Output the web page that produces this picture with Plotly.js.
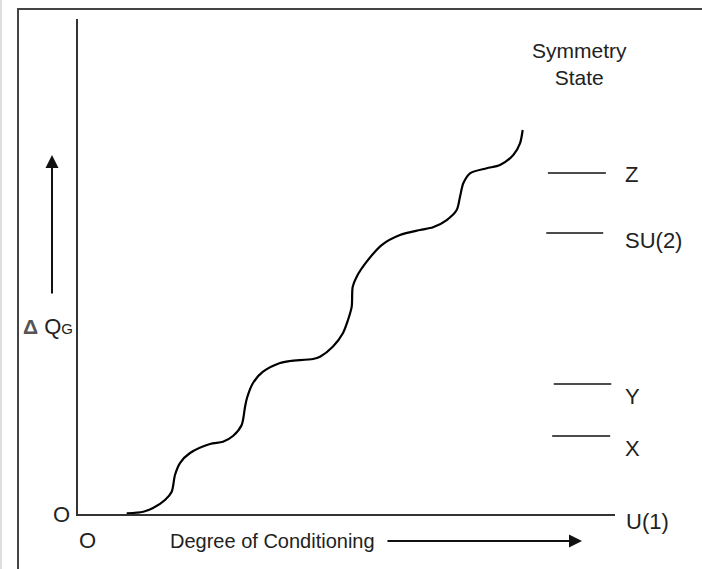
<!DOCTYPE html>
<html>
<head>
<meta charset="utf-8">
<script src="https://cdn.plot.ly/plotly-3.0.1.min.js"></script>
<style>
html,body{margin:0;padding:0;background:#fff;}
#chart{width:702px;height:569px;}
</style>
</head>
<body>
<div id="chart"></div>
<script>
// Conditioning curve (arbitrary units, 0..100 on both axes)
const conditioning = [9.07,12.16,13.97,16.20,17.45,18.06,18.99,20.86,24.58,27.00,28.86,30.48,31.10,31.47,32.59,34.45,37.62,39.48,43.76,45.07,47.49,49.35,50.28,50.97,51.15,51.90,53.76,56.55,59.96,63.69,66.11,68.66,70.52,71.14,71.75,73.00,76.11,78.58,81.06,82.31,82.81];
const deltaQG = [0.14,0.46,1.21,2.83,4.51,7.88,10.30,12.32,14.14,14.61,15.76,17.98,21.62,23.43,26.46,28.75,30.51,30.91,31.31,31.78,33.84,36.57,39.19,41.88,45.86,47.94,50.97,54.34,56.36,57.37,57.92,59.39,61.41,64.10,66.81,68.83,69.84,70.51,72.53,74.89,77.58];

// Symmetry states and their levels
const states = ["Z","SU(2)","Y","X"];
const stateLevels = [68.89,56.77,26.26,15.76];

// Text labels
const titleText = "Symmetry<br>State";
const baseState = "U(1)";
const xLabel = "Degree of Conditioning";
const yLabel = '<b style="font-size:21px;color:#555">Δ</b> Q<span style="font-size:15px">G</span>';
const originLabel = "O";

// ---- styling / placement (not data) ----
const FONT = "Liberation Sans, Arial, sans-serif";
const INK = "#222";
const lineSpans = [[87.5,98.3],[87.2,97.8],[88.6,99.3],[88.3,99.1]];
const labelShift = [-2,-8,-12,-13];

const shapes = [];
const annotations = [];

// outer frame
shapes.push({type:"rect",xref:"paper",yref:"paper",x0:-0.1117,x1:1.3,y0:-0.3,y1:1.0202,
  line:{color:"#444",width:2},fillcolor:"rgba(0,0,0,0)",layer:"below"});
// faint page edge
shapes.push({type:"line",xref:"paper",yref:"paper",x0:-0.1434,x1:-0.1434,y0:-0.3,y1:1.1,
  line:{color:"#d4d4d4",width:1.5}});

states.forEach((s,i)=>{
  shapes.push({type:"line",xref:"x",yref:"y",x0:lineSpans[i][0],x1:lineSpans[i][1],
    y0:stateLevels[i],y1:stateLevels[i],line:{color:"#111",width:1.5}});
  annotations.push({xref:"paper",yref:"y",x:1.0149,y:stateLevels[i],yshift:labelShift[i],
    xanchor:"left",yanchor:"middle",text:s,showarrow:false,font:{family:FONT,size:22,color:INK}});
});

annotations.push({xref:"paper",yref:"y",x:1.0168,y:0,yshift:-7,xanchor:"left",yanchor:"middle",
  text:baseState,showarrow:false,font:{family:FONT,size:22,color:INK}});
annotations.push({xref:"paper",yref:"paper",x:0.9348,y:0.9091,xanchor:"center",yanchor:"middle",
  text:titleText,showarrow:false,font:{family:FONT,size:21,color:INK}});
annotations.push({xref:"paper",yref:"paper",x:-0.0298,y:-0.002,xanchor:"center",yanchor:"middle",
  text:originLabel,showarrow:false,font:{family:FONT,size:22,color:INK}});
annotations.push({xref:"paper",yref:"paper",x:0.0168,y:-0.0545,xanchor:"center",yanchor:"middle",
  text:originLabel,showarrow:false,font:{family:FONT,size:22,color:INK}});
annotations.push({xref:"paper",yref:"paper",x:0.1676,y:-0.0545,xanchor:"left",yanchor:"middle",
  text:xLabel,showarrow:false,font:{family:FONT,size:20,color:INK}});
annotations.push({xref:"paper",yref:"paper",x:-0.0559,y:0.3778,xanchor:"center",yanchor:"middle",
  text:yLabel,showarrow:false,font:{family:FONT,size:22,color:INK}});
// horizontal arrow
annotations.push({xref:"paper",yref:"paper",x:0.9385,y:-0.0545,ax:-196,ay:0,text:"",
  showarrow:true,arrowhead:2,arrowsize:1.3,arrowwidth:2,arrowcolor:"#111",standoff:0});
// vertical arrow
annotations.push({xref:"paper",yref:"paper",x:-0.0484,y:0.7253,ax:0,ay:140,text:"",
  showarrow:true,arrowhead:2,arrowsize:1.3,arrowwidth:2,arrowcolor:"#111",standoff:0});

const trace = {x:conditioning,y:deltaQG,type:"scatter",mode:"lines",
  line:{color:"#000",width:2.2,shape:"spline",smoothing:0.8},hoverinfo:"skip"};

const layout = {
  width:702,height:569,
  margin:{l:78,r:87,t:19,b:55,pad:0},
  paper_bgcolor:"#fff",plot_bgcolor:"#fff",
  showlegend:false,
  xaxis:{range:[0,100],showgrid:false,zeroline:false,showticklabels:false,ticks:"",
    showline:true,linecolor:"#333",linewidth:2,fixedrange:true},
  yaxis:{range:[0,100],showgrid:false,zeroline:false,showticklabels:false,ticks:"",
    showline:true,linecolor:"#333",linewidth:2,fixedrange:true},
  shapes:shapes,
  annotations:annotations
};

Plotly.newPlot("chart",[trace],layout,{displayModeBar:false,staticPlot:true});
</script>
</body>
</html>
